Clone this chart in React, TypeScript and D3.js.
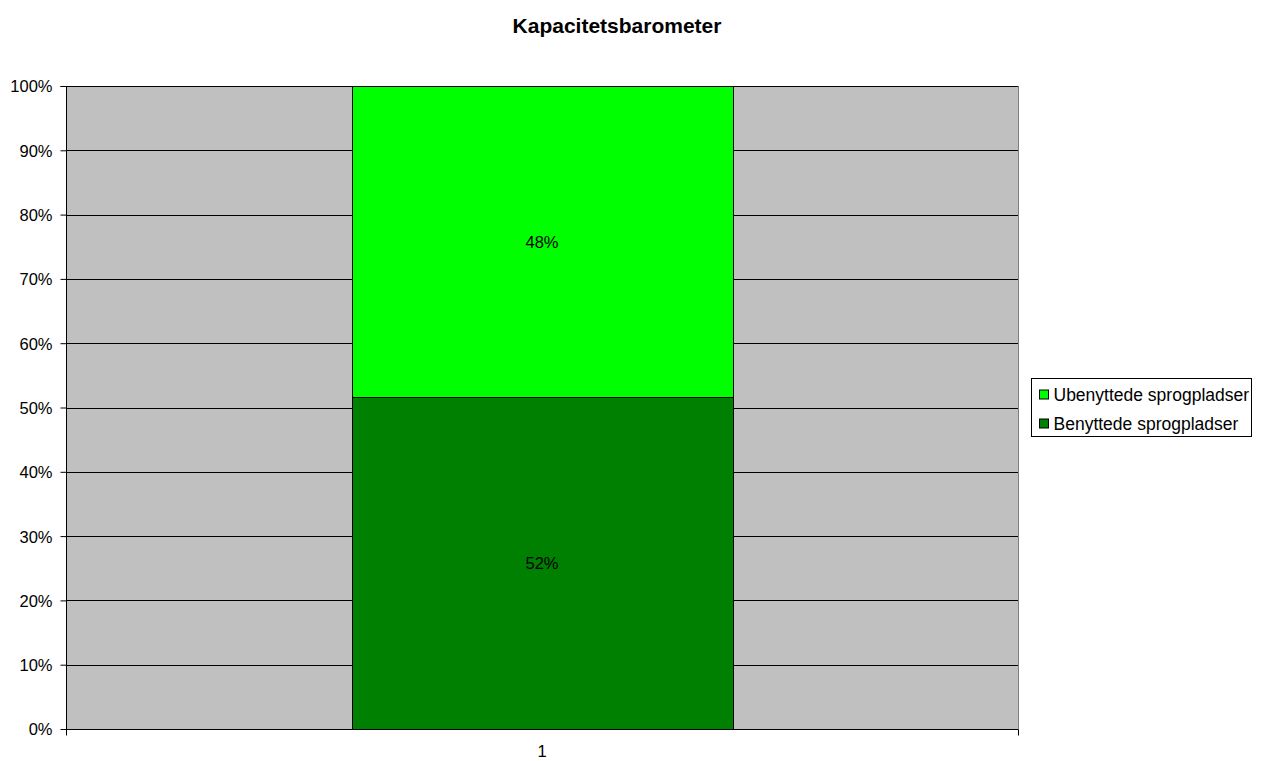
import React, { useEffect, useRef } from 'react';
import * as d3 from 'd3';

// chart values
const categories = ['1'];
const seriesNames = ['Benyttede sprogpladser', 'Ubenyttede sprogpladser'];
const seriesColors = ['#008000', '#00FF00'];
const benyttede = [51.6];
const ubenyttede = [48.4];
const yTicks = [0, 10, 20, 30, 40, 50, 60, 70, 80, 90, 100];

export default function App() {
  const ref = useRef<SVGSVGElement>(null);

  useEffect(() => {
    if (!ref.current) return;
    const svg = d3.select(ref.current);
    svg.selectAll('*').remove();

    const W = 1263, H = 761;
    const m = { left: 66, right: 245, top: 86, bottom: 32 };
    const font = 'Liberation Sans, Arial, sans-serif';
    const fs = 16.5;

    const x = d3.scaleBand<string>().domain(categories).range([m.left, W - m.right]).paddingInner(0).paddingOuter(0.75);
    const y = d3.scaleLinear().domain([0, 100]).range([H - m.bottom, m.top]);

    svg.append('text')
      .attr('x', 617).attr('y', 33)
      .attr('text-anchor', 'middle')
      .attr('font-family', font).attr('font-weight', 'bold').attr('font-size', 21)
      .text('Kapacitetsbarometer');

    // plot area
    svg.append('rect')
      .attr('x', m.left + 0.5).attr('y', m.top + 0.5)
      .attr('width', W - m.right - m.left).attr('height', H - m.bottom - m.top)
      .attr('fill', '#C0C0C0').attr('stroke', '#808080').attr('stroke-width', 1);

    // gridlines
    svg.append('g').selectAll('line')
      .data(yTicks.slice(1))
      .join('line')
      .attr('x1', m.left).attr('x2', W - m.right)
      .attr('y1', d => Math.round(y(d)) + 0.5).attr('y2', d => Math.round(y(d)) + 0.5)
      .attr('stroke', '#000').attr('stroke-width', 1);

    // stacked bars
    const rows = categories.map((c, i) => ({ cat: c, s0: benyttede[i], s1: ubenyttede[i] }));
    const stack = d3.stack<any>().keys(['s0', 's1']).offset(d3.stackOffsetExpand);
    const layers = stack(rows);
    layers.forEach((layer, li) => {
      const g = svg.append('g');
      layer.forEach(seg => {
        const cat = (seg.data as any).cat;
        const y0 = y(seg[0] * 100), y1 = y(seg[1] * 100);
        g.append('rect')
          .attr('x', Math.round(x(cat) ?? 0) + 0.5).attr('y', Math.round(y1) + 0.5)
          .attr('width', Math.round(x.bandwidth())).attr('height', Math.round(y0) - Math.round(y1))
          .attr('fill', seriesColors[li]).attr('stroke', '#000').attr('stroke-width', 1);
        g.append('text')
          .attr('x', (x(cat) ?? 0) + x.bandwidth() / 2).attr('y', (y0 + y1) / 2 + 6)
          .attr('text-anchor', 'middle')
          .attr('font-family', font).attr('font-size', fs).attr('fill', '#000')
          .text(d3.format('.0%')(seg[1] - seg[0]));
      });
    });

    // y axis
    const ya = svg.append('g').attr('transform', `translate(${m.left + 0.5},0)`)
      .call(d3.axisLeft(y).tickValues(yTicks).tickSize(6).tickPadding(8).tickFormat(d => `${d}%`));
    ya.selectAll('text').attr('font-family', font).attr('font-size', fs).attr('fill', '#000').attr('dy', '0.36em');
    ya.selectAll('line').attr('stroke', '#000');
    ya.select('.domain').attr('stroke', '#000').attr('d', `M-6,${m.top + 0.5}H0V${H - m.bottom}`);

    // x axis
    const xb = d3.scaleLinear().domain([0, 1]).range([m.left, W - m.right]);
    const xa = svg.append('g').attr('transform', `translate(0,${H - m.bottom + 0.5})`);
    xa.append('line').attr('x1', m.left).attr('x2', W - m.right).attr('stroke', '#000');
    xa.selectAll('.tk').data([0, 1]).join('line')
      .attr('x1', d => xb(d) + 0.5).attr('x2', d => xb(d) + 0.5).attr('y1', 0).attr('y2', 6)
      .attr('stroke', '#000');
    xa.selectAll('text').data(categories).join('text')
      .attr('x', d => (x(d) ?? 0) + x.bandwidth() / 2).attr('y', 27)
      .attr('text-anchor', 'middle').attr('font-family', font).attr('font-size', fs).attr('fill', '#000')
      .text(d => d);

    // legend
    const lg = svg.append('g').attr('transform', 'translate(1031.5,378.5)');
    lg.append('rect').attr('width', 220).attr('height', 58).attr('fill', '#fff').attr('stroke', '#000');
    const items = [1, 0];
    items.forEach((si, i) => {
      const row = lg.append('g').attr('transform', `translate(8,${16 + i * 29})`);
      row.append('rect').attr('x', 0).attr('y', -4.5).attr('width', 9).attr('height', 9)
        .attr('fill', seriesColors[si]).attr('stroke', '#000');
      row.append('text').attr('x', 14).attr('y', 6)
        .attr('font-family', font).attr('font-size', 17.5).attr('fill', '#000').text(seriesNames[si]);
    });
  }, []);

  return (
    <svg ref={ref} width={1263} height={761}
      style={{ position: 'absolute', left: 0, top: 0, background: '#fff' }} />
  );
}
